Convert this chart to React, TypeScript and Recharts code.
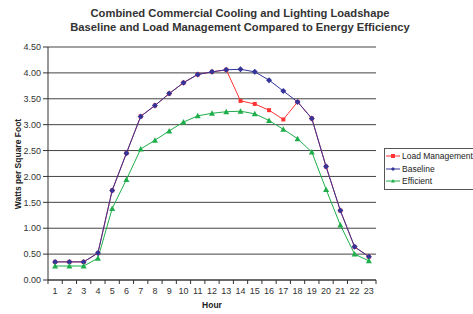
import React from "react";
import { CartesianGrid, Legend, Line, LineChart, XAxis, YAxis } from "recharts";

const hours = [1, 2, 3, 4, 5, 6, 7, 8, 9, 10, 11, 12, 13, 14, 15, 16, 17, 18, 19, 20, 21, 22, 23];
const loadManagement = [
  0.35, 0.35, 0.35, 0.52, 1.73, 2.45, 3.16, 3.37, 3.6, 3.81, 3.97, 4.02, 4.06, 3.46, 3.4, 3.28, 3.1, 3.44,
  3.12, 2.19, 1.34, 0.64, 0.45,
];
const baseline = [
  0.35, 0.35, 0.35, 0.52, 1.73, 2.45, 3.16, 3.37, 3.6, 3.81, 3.97, 4.02, 4.06, 4.07, 4.02, 3.86, 3.65, 3.44,
  3.12, 2.19, 1.34, 0.64, 0.45,
];
const efficient = [
  0.27, 0.27, 0.27, 0.42, 1.38, 1.94, 2.53, 2.7, 2.88, 3.05, 3.17, 3.22, 3.25, 3.26, 3.21, 3.08, 2.91, 2.73,
  2.47, 1.75, 1.06, 0.5, 0.37,
];
const yTicks = [0, 0.5, 1, 1.5, 2, 2.5, 3, 3.5, 4, 4.5];
const seriesOrder = ["loadManagement", "baseline", "efficient"];

// label ticks at each hour, tick marks halfway between them (Excel style)
const xTicks = [0.5, ...hours.flatMap((h) => [h, h + 0.5])];

const data = hours.map((hour, i) => ({
  hour,
  loadManagement: loadManagement[i],
  baseline: baseline[i],
  efficient: efficient[i],
}));

const RED = "#ff3333";
const BLUE = "#333399";
const GREEN = "#1fae4b";
const FONT = "Arial, 'Liberation Sans', sans-serif";

const Square = ({ cx, cy, fill, size = 2 }: any) => (
  <rect x={cx - size} y={cy - size} width={size * 2} height={size * 2} fill={fill} />
);
const Diamond = ({ cx, cy, fill, size = 3 }: any) => (
  <path d={`M${cx},${cy - size}L${cx + size},${cy}L${cx},${cy + size}L${cx - size},${cy}Z`} fill={fill} />
);
const Triangle = ({ cx, cy, fill, size = 3 }: any) => (
  <path d={`M${cx},${cy - size}L${cx + size},${cy + size - 0.5}L${cx - size},${cy + size - 0.5}Z`} fill={fill} />
);

const markers: Record<string, any> = {
  loadManagement: Square,
  baseline: Diamond,
  efficient: Triangle,
};

const HourTick = ({ x, y, payload }: any) => {
  const v = payload.value;
  if (v % 1 !== 0) {
    return <line x1={x} x2={x} y1={y - 8} y2={y - 4} stroke="#333" />;
  }
  return (
    <text x={x} y={y} dy="0.71em" textAnchor="middle" fontSize={9} fill="#333" fontFamily={FONT}>
      {v}
    </text>
  );
};

const LegendBox = ({ payload }: any) => {
  const items = [...(payload || [])].sort(
    (a: any, b: any) => seriesOrder.indexOf(a.dataKey) - seriesOrder.indexOf(b.dataKey),
  );
  return (
    <div
      style={{
        border: "1px solid #555",
        borderRight: "none",
        background: "#fff",
        padding: "1px 0 1px 1px",
        fontFamily: FONT,
        fontSize: 8.5,
        color: "#222",
        width: 88,
      }}
    >
      {items.map((p: any) => {
        const M = markers[p.dataKey];
        return (
          <div key={p.dataKey} style={{ display: "flex", alignItems: "center", height: 12.5, whiteSpace: "nowrap" }}>
            <svg width={15} height={8} style={{ marginRight: 1 }}>
              <line x1={0} x2={14} y1={4} y2={4} stroke={p.color} />
              <M cx={7} cy={4} fill={p.color} size={2} />
            </svg>
            {p.value}
          </div>
        );
      })}
    </div>
  );
};

export default function App() {
  return (
    <div style={{ position: "absolute", left: 0, top: 0, width: 473, height: 314, background: "#fff", fontFamily: FONT, overflow: "hidden" }}>
      <div
        style={{
          position: "absolute",
          left: 0,
          width: 480,
          top: 6,
          textAlign: "center",
          fontWeight: "bold",
          fontSize: 11.2,
          lineHeight: "14px",
          color: "#333",
        }}
      >
        Combined Commercial Cooling and Lighting Loadshape
        <br />
        Baseline and Load Management Compared to Energy Efficiency
      </div>
      <div
        style={{
          position: "absolute",
          left: 18,
          top: 164,
          transform: "translate(-50%, -50%) rotate(-90deg)",
          fontWeight: "bold",
          fontSize: 8.5,
          color: "#222",
          whiteSpace: "nowrap",
        }}
      >
        Watts per Square Foot
      </div>
      <div
        style={{
          position: "absolute",
          left: 212,
          top: 305,
          transform: "translate(-50%, -50%)",
          fontWeight: "bold",
          fontSize: 8.5,
          color: "#222",
        }}
      >
        Hour
      </div>
      <LineChart width={473} height={314} data={data} margin={{ top: 47, right: 97, left: 0, bottom: 0 }}>
        <CartesianGrid vertical={false} stroke="#444" strokeWidth={1} />
        <XAxis
          dataKey="hour"
          type="number"
          domain={[0.5, 23.5]}
          ticks={xTicks}
          interval={0}
          height={34}
          tickSize={4}
          tickMargin={4}
          tickLine={false}
          axisLine={{ stroke: "#333" }}
          tick={<HourTick />}
          allowDataOverflow
        />
        <YAxis
          domain={[0, 4.5]}
          ticks={yTicks}
          interval={0}
          width={48}
          tickSize={5}
          tickMargin={2}
          tickFormatter={(v: number) => v.toFixed(2)}
          tick={{ fontSize: 9, fill: "#333", fontFamily: FONT }}
          axisLine={{ stroke: "#333" }}
          tickLine={{ stroke: "#333" }}
          allowDataOverflow
        />
        <YAxis
          yAxisId="frame"
          orientation="right"
          width={0}
          tick={false}
          tickLine={false}
          axisLine={{ stroke: "#999" }}
        />
        <Legend
          layout="horizontal"
          verticalAlign="middle"
          align="center"
          content={<LegendBox />}
          wrapperStyle={{ position: "absolute", left: 384, top: 148, width: 89 }}
        />
        <Line
          dataKey="loadManagement"
          name="Load Management"
          stroke={RED}
          strokeWidth={1}
          dot={<Square fill={RED} />}
          activeDot={false}
          isAnimationActive={false}
        />
        <Line
          dataKey="baseline"
          name="Baseline"
          stroke={BLUE}
          strokeWidth={1}
          dot={<Diamond fill={BLUE} />}
          activeDot={false}
          isAnimationActive={false}
        />
        <Line
          dataKey="efficient"
          name="Efficient"
          stroke={GREEN}
          strokeWidth={1}
          dot={<Triangle fill={GREEN} />}
          activeDot={false}
          isAnimationActive={false}
        />
      </LineChart>
    </div>
  );
}
